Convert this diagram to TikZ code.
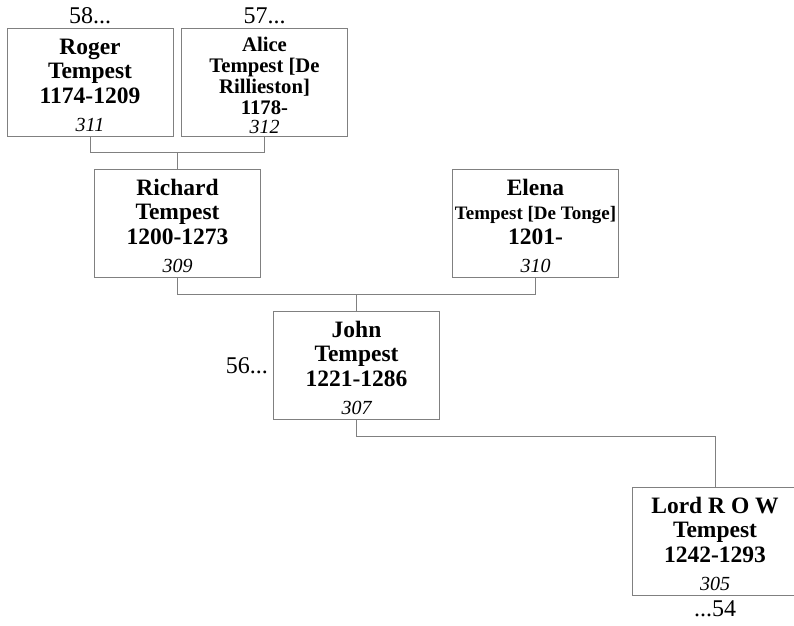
\documentclass[tikz,border=0pt]{standalone}
\usepackage{fontspec}
\setmainfont{Liberation Serif}
\usetikzlibrary{positioning,calc}
\definecolor{boxgray}{RGB}{128,128,128}
\newcommand{\refno}[1]{{\mdseries\itshape\fontsize{20}{24}\selectfont #1}}
% name, surname, years, [gap], reference number
\newcommand{\card}[5][4pt]{\rule{0pt}{21pt}#2\\#3\\#4\\[#1]\refno{#5}}
\tikzset{
  person/.style={draw=boxgray, line width=1pt, minimum width=166pt,
                 minimum height=108pt, align=center, inner sep=0pt,
                 font=\bfseries\fontsize{23.5}{24.5}\selectfont},
  link/.style={draw=boxgray, line width=1pt},
  more/.style={font=\fontsize{24}{24}\selectfont, inner sep=1pt}
}
\begin{document}
\begin{tikzpicture}[x=1pt, y=-1pt]
  \useasboundingbox (0,0) rectangle (794,625);

  \node[person] (roger) at (90,82.5) {\card{Roger}{Tempest}{1174-1209}{311}};
  \node[person, font=\bfseries\fontsize{20.7}{21}\selectfont] (alice) at (264.5,82.5)
    {\card[-2pt]{Alice}{Tempest [De\\Rillieston]}{1178-}{312}};
  \node[person] (richard) at (177.5,223.5) {\card{Richard}{Tempest}{1200-1273}{309}};
  \node[person] (elena) at (535.5,223.5)
    {\card{Elena}{{\fontsize{19}{24.5}\selectfont Tempest [De Tonge]}}{1201-}{310}};
  \node[person] (john) at (356.5,365.5) {\card{John}{Tempest}{1221-1286}{307}};
  \node[person] (lord) at (715,541.5) {\card{Lord R O W}{Tempest}{1242-1293}{305}};

  % Continuations
  \node[more, above=3pt of roger] (r58) {58...};
  \node[more, above=3pt of alice] (a57) {57...};
  \node[more, left=4pt of john] (j56) {56...};
  \node[more, below=3pt of lord] (l54) {...54};

  % Family lines
  \coordinate (m1) at (richard.north |- 0,152.5);
  \coordinate (m2) at (john.north |- 0,294.5);
  \coordinate (m3) at (lord.north |- 0,436.5);
  \draw[link] (roger.south) |- (m1) -| (alice.south);
  \draw[link] (m1) -- (richard.north);
  \draw[link] (richard.south) |- (m2) -| (elena.south);
  \draw[link] (m2) -- (john.north);
  \draw[link] (john.south) |- (m3) -- (lord.north);
\end{tikzpicture}
\end{document}
